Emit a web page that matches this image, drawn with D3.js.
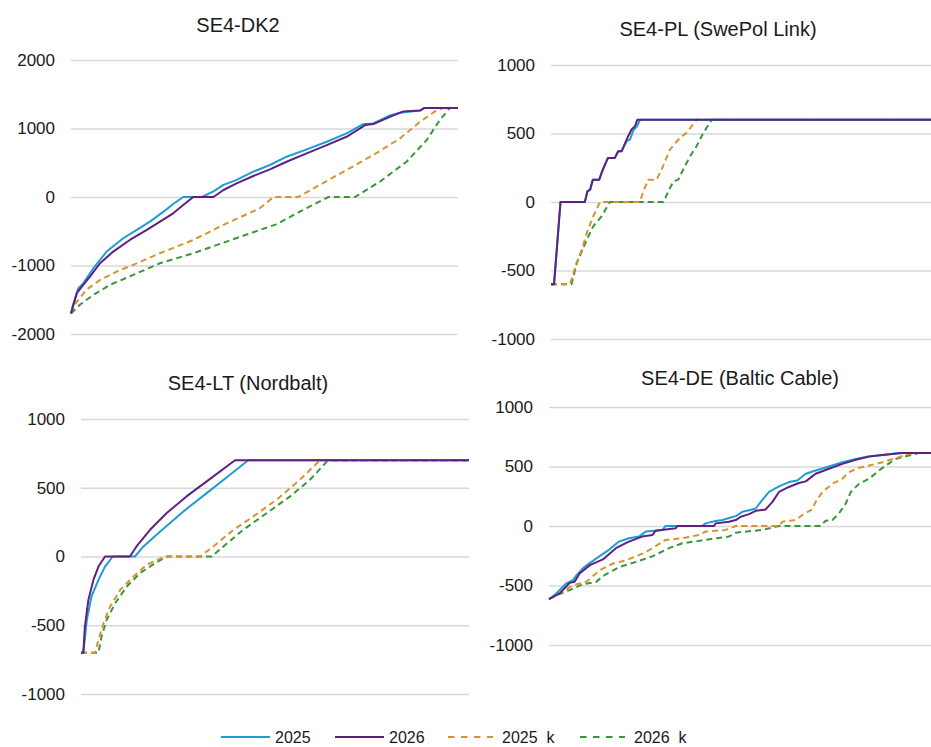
<!DOCTYPE html>
<html>
<head>
<meta charset="utf-8">
<script src="https://cdn.jsdelivr.net/npm/d3@7"></script>
<style>
  html, body { margin: 0; padding: 0; background: #ffffff; }
  svg { display: block; }
  text { font-family: "Liberation Sans", Arial, sans-serif; fill: #1a1a1a; }
</style>
</head>
<body>
<svg id="chart" width="931" height="747"></svg>
<script>
// ---------------- DATA ----------------
// x = share of hours (%) sorted, y = capacity (MW)
const seriesNames = ["2025", "2026", "2025  k", "2026  k"];
const panelTitles = ["SE4-DK2", "SE4-PL (SwePol Link)", "SE4-LT (Nordbalt)", "SE4-DE (Baltic Cable)"];
const ticksDK2 = [-2000, -1000, 0, 1000, 2000];
const ticksOther = [-1000, -500, 0, 500, 1000];

// SE4-DK2
const dk2_2025 = [[0,-1700],[0.4,-1600],[1.9,-1330],[3.2,-1258],[5.8,-1040],[9.2,-797],[13.5,-602],[17,-481],[20.4,-360],[23.9,-214],[26.4,-102],[29,0],[33.8,0],[36.8,83],[39.4,177],[42.8,250],[47.1,370],[51.4,467],[55.7,588],[60.9,695],[66.1,806],[71.2,928],[75.5,1063],[78.1,1073],[82.4,1190],[85,1230],[90.2,1263],[91.5,1300],[100,1300]];
const dk2_2026 = [[0,-1700],[0.4,-1620],[1.5,-1404],[2.8,-1307],[4.9,-1161],[7.5,-967],[10.9,-797],[15.2,-627],[19.6,-481],[23,-360],[26.4,-238],[29,-117],[31.6,0],[36.8,0],[39.4,102],[42.8,200],[47.1,306],[51.4,404],[55.7,515],[60.9,637],[66.1,758],[71.2,879],[76,1050],[78.1,1064],[82.4,1170],[85.9,1250],[90.2,1263],[91.3,1300],[100,1300]];
const dk2_2025k = [[0,-1700],[1.2,-1550],[4,-1355],[7.5,-1210],[11.8,-1089],[16.1,-990],[23,-820],[31.6,-627],[40.2,-384],[48.8,-165],[52.3,0],[58.7,0],[64.3,177],[71.2,394],[78.1,612],[85,855],[90.2,1098],[94.5,1268],[96.2,1300],[100,1300]];
const dk2_2026k = [[0,-1700],[2.3,-1574],[5.8,-1428],[10.1,-1282],[16.1,-1137],[23,-967],[31.6,-821],[40.2,-651],[48.8,-481],[53,-400],[59.1,-215],[66.5,0],[73.4,0],[79.8,223],[86.7,515],[91.9,831],[95.3,1122],[97.9,1300],[100,1300]];

// SE4-PL
const pl_2025 = [[0,-600],[0.8,-600],[2.5,0],[8.9,0],[9.6,78],[10.3,90],[11,163],[12.7,163],[13.3,212],[14.2,273],[15,322],[16.8,322],[17.7,371],[18.6,371],[19.9,445],[20.8,456],[21.7,525],[22.6,550],[23.4,600],[100,600]];
const pl_2026 = [[0,-600],[0.8,-600],[2.5,0],[8.9,0],[9.6,78],[10.3,90],[11,163],[12.7,163],[13.3,212],[14.2,273],[15,322],[16.8,322],[17.7,371],[18.6,371],[19.9,456],[21.2,529],[22.1,554],[22.7,600],[100,600]];
const pl_2025k = [[0,-600],[5,-600],[6.8,-440],[8.1,-350],[9.4,-227],[11.1,-105],[12.9,0],[23.4,0],[24.3,78],[25.6,163],[27.8,163],[29.1,237],[31.3,383],[34,470],[35.7,505],[38.3,600],[100,600]];
const pl_2026k = [[0,-600],[5.4,-600],[6.8,-446],[8.1,-361],[9.4,-276],[11.1,-178],[13.3,-105],[15.5,0],[29.6,0],[30.9,78],[32.2,151],[33.5,163],[34.8,237],[36.6,334],[38.3,407],[40.1,505],[42.3,600],[100,600]];

// SE4-LT
const lt_2025 = [[0,-700],[0.6,-700],[1.5,-461],[2.7,-291],[4.5,-170],[6.2,-73],[8.2,0],[13.9,0],[16.1,73],[20.4,182],[26.4,328],[32.4,461],[38.4,595],[43.1,700],[100,700]];
const lt_2026 = [[0,-700],[0.6,-700],[1,-510],[1.9,-316],[3.2,-170],[4.5,-73],[6.2,0],[12.6,0],[14.3,73],[17.8,194],[22.1,316],[27.2,437],[32.4,546],[39.7,700],[100,700]];
const lt_2025k = [[0,-700],[3.6,-700],[4.5,-607],[5.8,-485],[7.5,-364],[10.1,-243],[13.5,-146],[16.9,-61],[21.6,0],[30.7,0],[34.1,73],[39.3,194],[44.4,291],[50.4,413],[56.4,558],[61.6,700],[100,700]];
const lt_2026k = [[0,-700],[4.5,-700],[5.3,-583],[6.6,-461],[8.8,-340],[11.8,-218],[15.2,-121],[19.1,-49],[22.1,0],[33.7,0],[36.7,73],[41.8,194],[47.9,316],[53.9,437],[59,558],[63.7,700],[100,700]];

// SE4-DE
const de_2025 = [[0,-615],[1.9,-567],[4.5,-483],[6.3,-455],[7.2,-413],[9.3,-343],[12.4,-272],[15.7,-200],[18.3,-131],[20.9,-103],[23.6,-89],[25.3,-47],[29.7,-33],[30.5,0],[40.1,0],[41,22],[43.6,42],[45.4,50],[47.6,72],[48.9,83],[50.6,119],[52.4,133],[54.1,147],[55.8,217],[57.6,286],[60.2,333],[62.8,369],[65,383],[67.2,439],[69.8,467],[73.3,500],[76.8,536],[80.3,564],[83.8,586],[87.3,597],[91.6,614],[100,614]];
const de_2026 = [[0,-615],[2.8,-567],[5.4,-478],[6.7,-469],[8,-399],[10.7,-329],[14.1,-281],[17.5,-186],[20.9,-131],[24.4,-89],[27.1,-75],[27.9,-39],[33.2,-19],[33.6,0],[43.2,0],[43.6,22],[47.1,36],[48.9,50],[50.2,78],[52.4,100],[54.1,128],[56.7,139],[58.5,203],[60.2,286],[62.8,328],[65.4,361],[67.2,375],[69.8,439],[73.3,481],[76.8,522],[80.3,556],[83.8,583],[87.3,597],[92.5,614],[100,614]];
const de_2025k = [[0,-615],[2.8,-567],[6.3,-497],[9.8,-469],[13.3,-371],[16.8,-315],[20.3,-287],[24.6,-230],[27.1,-186],[30.5,-117],[34.9,-103],[39.3,-75],[41,-47],[46.2,-33],[48.9,0],[60.2,0],[61.1,36],[64.6,50],[66.3,92],[68.9,139],[69.8,203],[71.6,286],[74.2,356],[76.8,397],[78.5,453],[81.2,489],[83.8,508],[87.3,536],[91.6,578],[94.2,606],[96,614],[100,614]];
const de_2026k = [[0,-615],[1.9,-581],[5.4,-539],[8.9,-489],[12.4,-469],[14.1,-421],[18.5,-343],[22.9,-301],[27.2,-253],[31.4,-186],[34.9,-145],[39.3,-125],[43.6,-103],[47.1,-89],[48.9,-56],[55.8,-33],[60.2,0],[71.1,0],[72.4,44],[74.2,50],[75.9,106],[77.7,189],[79,286],[81.2,356],[83.8,397],[86.4,467],[88.1,508],[90.8,564],[94.2,592],[96.9,614],[100,614]];

// ---------------- STYLE ----------------
const colors = ["#1f9bd8", "#5e2180", "#d8922e", "#3a963a"];
const dashes = [null, null, "6,4", "6,4"];

const panels = [
  { title: panelTitles[0], data: [dk2_2025, dk2_2026, dk2_2025k, dk2_2026k], ticks: ticksDK2, dom: [-2000, 2000],
    x0: 71, x1: 458, yTop: 60, yBot: 334, labelX: 55, titleX: 238, titleY: 32 },
  { title: panelTitles[1], data: [pl_2025, pl_2026, pl_2025k, pl_2026k], ticks: ticksOther, dom: [-1000, 1000],
    x0: 551, x1: 931, yTop: 65, yBot: 339, labelX: 535, titleX: 718, titleY: 36 },
  { title: panelTitles[2], data: [lt_2025, lt_2026, lt_2025k, lt_2026k], ticks: ticksOther, dom: [-1000, 1000],
    x0: 81, x1: 469, yTop: 419, yBot: 694, labelX: 65, titleX: 248, titleY: 390 },
  { title: panelTitles[3], data: [de_2025, de_2026, de_2025k, de_2026k], ticks: ticksOther, dom: [-1000, 1000],
    x0: 549, x1: 931, yTop: 407, yBot: 645, labelX: 533, titleX: 740, titleY: 385 }
];

const svg = d3.select("#chart");
svg.append("rect").attr("width", 931).attr("height", 747).attr("fill", "#fff");

panels.forEach(p => {
  const x = d3.scaleLinear().domain([0, 100]).range([p.x0, p.x1]);
  const y = d3.scaleLinear().domain(p.dom).range([p.yBot, p.yTop]);
  const g = svg.append("g");

  // gridlines via axis
  const axis = d3.axisLeft(y).tickValues(p.ticks).tickSize(-(p.x1 - p.x0)).tickPadding(p.x0 - p.labelX)
    .tickFormat(d => String(d));
  const ax = g.append("g").attr("transform", `translate(${p.x0},0)`).call(axis);
  ax.select(".domain").remove();
  ax.selectAll(".tick line").attr("stroke", "#d9d9d9").attr("stroke-width", 1.3);
  ax.selectAll(".tick text").attr("font-size", 17).attr("fill", "#1a1a1a")
    .style("font-family", '"Liberation Sans", Arial, sans-serif');

  g.append("text").attr("x", p.titleX).attr("y", p.titleY).attr("text-anchor", "middle")
    .attr("font-size", 20).text(p.title);

  const line = d3.line().x(d => x(d[0])).y(d => y(d[1]));
  [3, 2, 0, 1].forEach(i => {
    g.append("path").datum(p.data[i]).attr("d", line)
      .attr("fill", "none").attr("stroke", colors[i]).attr("stroke-width", 2)
      .attr("stroke-linejoin", "round")
      .attr("stroke-dasharray", dashes[i]);
  });
});

// legend
const legendX = [221, 335, 448, 580];
const lg = svg.append("g");
seriesNames.forEach((n, i) => {
  lg.append("line").attr("x1", legendX[i]).attr("x2", legendX[i] + (i < 2 ? 49 : 45))
    .attr("y1", 737).attr("y2", 737).attr("stroke", colors[i]).attr("stroke-width", 2)
    .attr("stroke-dasharray", dashes[i] ? "6.5,6.5" : null);
  lg.append("text").attr("x", legendX[i] + 54).attr("y", 743)
    .attr("font-size", 16).style("white-space", "pre").attr("xml:space", "preserve").text(n);
});
</script>
</body>
</html>
